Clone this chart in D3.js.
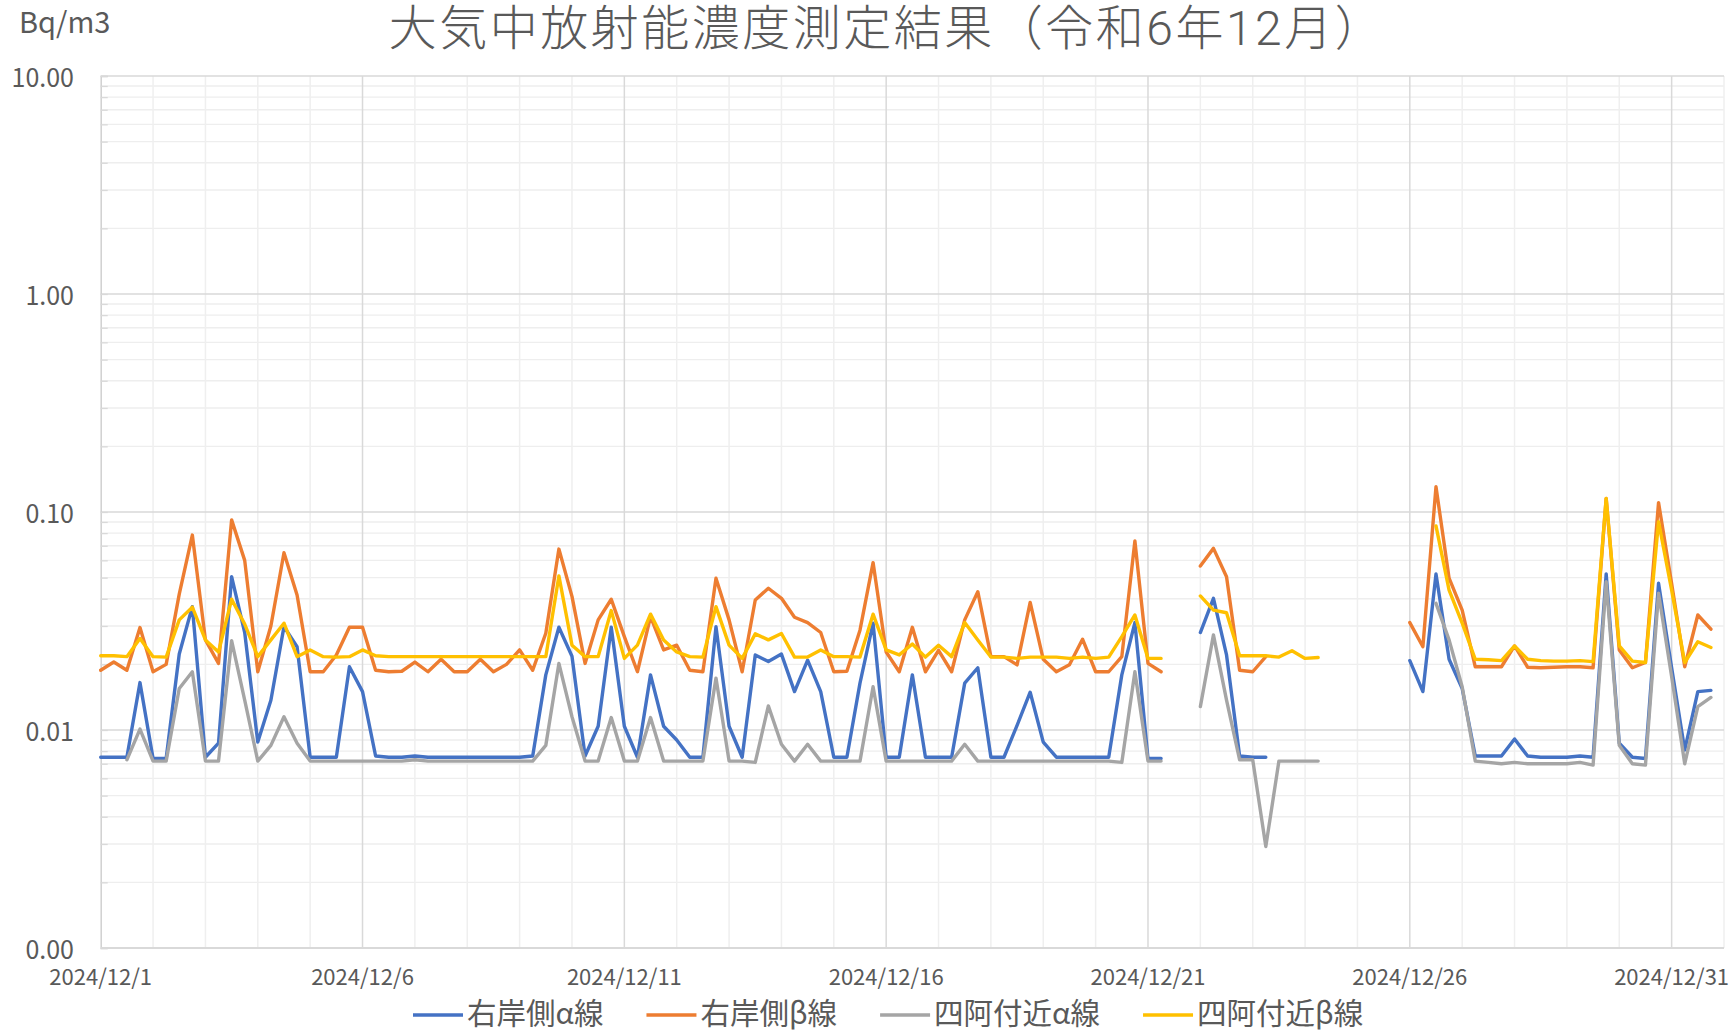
<!DOCTYPE html>
<html lang='ja'>

<head>
    <meta charset='UTF-8'/>
    <title>大気中放射能濃度測定結果（令和6年12月）</title>
    <script src="https://cdn.jsdelivr.net/npm/d3@7"></script>
    <style>
        html,
        body {
            margin: 0;
            background: white;
        }

        #container {
            position: relative;
            width: 1736px;
            height: 1033px;
            overflow: hidden;
        }

        text {
            font-family: "Noto Sans CJK JP", "Noto Sans", sans-serif;
            fill: #595959;
        }

        .chart-title {
            position: absolute;
            left: 387px;
            top: 5px;
            width: 1000px;
            text-align: center;
            font-family: Roboto, "Noto Sans CJK JP", sans-serif;
            font-size: 48px;
            font-weight: 300;
            line-height: 48px;
            letter-spacing: 2.5px;
            color: #595959;
            white-space: nowrap;
        }
    </style>
</head>

<body>
<div id="container"></div>

<script>
    // measurement every 6 hours from 2024/12/1 00:00, null = no data
    const startDate = new Date(2024, 11, 1)
    const stepHours = 6

    const rightBankAlpha = [
        0.0075, 0.0075, 0.0075, 0.0165, 0.0074, 0.0074, 0.0223, 0.0368, 0.0075, 0.0087,
        0.0505, 0.028, 0.0088, 0.0137, 0.0298, 0.0241, 0.0075, 0.0075, 0.0075, 0.0195,
        0.015, 0.0076, 0.0075, 0.0075, 0.0076, 0.0075, 0.0075, 0.0075, 0.0075, 0.0075,
        0.0075, 0.0075, 0.0075, 0.0076, 0.0179, 0.0296, 0.0218, 0.0076, 0.0104, 0.0296,
        0.0104, 0.0075, 0.0179, 0.0104, 0.009, 0.0075, 0.0075, 0.0298, 0.0104, 0.0075,
        0.0221, 0.0206, 0.0223, 0.015, 0.0209, 0.015, 0.0075, 0.0075, 0.0164, 0.0309,
        0.0075, 0.0075, 0.0179, 0.0075, 0.0075, 0.0075, 0.0164, 0.0193, 0.0075, 0.0075,
        0.0105, 0.0149, 0.0088, 0.0075, 0.0075, 0.0075, 0.0075, 0.0075, 0.0179, 0.0311,
        0.0074, 0.0074, null, null, 0.028, 0.0402, 0.0221, 0.0076, 0.0075, 0.0075,
        null, null, null, null, null, null, null, null, null, null,
        0.0208, 0.015, 0.052, 0.0211, 0.0155, 0.0076, 0.0076, 0.0076, 0.0091, 0.0076,
        0.0075, 0.0075, 0.0075, 0.0076, 0.0075, 0.052, 0.0087, 0.0075, 0.0074, 0.0471,
        0.0193, 0.0081, 0.015, 0.0152
    ]

    const rightBankBeta = [
        0.0188, 0.0205, 0.0188, 0.0295, 0.0185, 0.02, 0.042, 0.0784, 0.0259, 0.0202,
        0.092, 0.06, 0.0185, 0.03, 0.065, 0.0416, 0.0185, 0.0185, 0.0221, 0.0296,
        0.0296, 0.0188, 0.0185, 0.0186, 0.0205, 0.0185, 0.0211, 0.0185, 0.0185, 0.0211,
        0.0185, 0.02, 0.0233, 0.0188, 0.0278, 0.0676, 0.041, 0.0202, 0.032, 0.0398,
        0.0268, 0.0185, 0.0331, 0.0233, 0.0245, 0.0188, 0.0185, 0.0497, 0.032, 0.0185,
        0.0395, 0.0447, 0.0402, 0.0329, 0.0311, 0.028, 0.0185, 0.0186, 0.0287, 0.0586,
        0.0228, 0.0185, 0.0296, 0.0185, 0.0232, 0.0185, 0.032, 0.0431, 0.0217, 0.0217,
        0.0199, 0.0385, 0.0211, 0.0185, 0.0199, 0.0261, 0.0185, 0.0185, 0.0217, 0.0736,
        0.0202, 0.0185, null, null, 0.0565, 0.0681, 0.0505, 0.0188, 0.0185, 0.0217,
        null, null, null, null, null, null, null, null, null, null,
        0.0311, 0.0241, 0.1306, 0.0497, 0.0355, 0.0195, 0.0195, 0.0195, 0.0243, 0.0194,
        0.0193, 0.0194, 0.0195, 0.0195, 0.0193, 0.1155, 0.0233, 0.0193, 0.0204, 0.1104,
        0.047, 0.0195, 0.0337, 0.029
    ]

    const azumayaAlpha = [
        null, null, 0.0073, 0.0101, 0.0072, 0.0072, 0.0155, 0.0185, 0.0072, 0.0072,
        0.0257, 0.0137, 0.0072, 0.0085, 0.0115, 0.0087, 0.0072, 0.0072, 0.0072, 0.0072,
        0.0072, 0.0072, 0.0072, 0.0072, 0.0073, 0.0072, 0.0072, 0.0072, 0.0072, 0.0072,
        0.0072, 0.0072, 0.0072, 0.0072, 0.0085, 0.0202, 0.0115, 0.0072, 0.0072, 0.0114,
        0.0072, 0.0072, 0.0114, 0.0072, 0.0072, 0.0072, 0.0072, 0.0173, 0.0072, 0.0072,
        0.0071, 0.0129, 0.0086, 0.0072, 0.0086, 0.0072, 0.0072, 0.0072, 0.0072, 0.0158,
        0.0072, 0.0072, 0.0072, 0.0072, 0.0072, 0.0072, 0.0086, 0.0072, 0.0072, 0.0072,
        0.0072, 0.0072, 0.0072, 0.0072, 0.0072, 0.0072, 0.0072, 0.0072, 0.0071, 0.0185,
        0.0072, 0.0072, null, null, 0.0128, 0.0273, 0.0137, 0.0073, 0.0073, 0.00292,
        0.0072, 0.0072, 0.0072, 0.0072, null, null, null, null, null, null,
        null, null, 0.0381, 0.0259, 0.0158, 0.0072, 0.0071, 0.007, 0.0071, 0.007,
        0.007, 0.007, 0.007, 0.0071, 0.0069, 0.0479, 0.0085, 0.007, 0.0069, 0.0424,
        0.0176, 0.007, 0.0128, 0.0141
    ]

    const azumayaBeta = [
        0.0219, 0.0219, 0.0217, 0.0263, 0.0217, 0.0216, 0.032, 0.0366, 0.0259, 0.0228,
        0.0398, 0.0306, 0.0217, 0.0259, 0.0309, 0.0217, 0.0233, 0.0217, 0.0216, 0.0217,
        0.0233, 0.0219, 0.0217, 0.0217, 0.0217, 0.0217, 0.0217, 0.0217, 0.0217, 0.0217,
        0.0217, 0.0217, 0.0217, 0.0217, 0.0217, 0.0509, 0.0245, 0.0217, 0.0217, 0.0353,
        0.0213, 0.0245, 0.034, 0.0259, 0.0228, 0.0217, 0.0216, 0.0368, 0.0245, 0.0213,
        0.0276, 0.0259, 0.0277, 0.0216, 0.0216, 0.0233, 0.0217, 0.0217, 0.0216, 0.034,
        0.0233, 0.0221, 0.0248, 0.0216, 0.0245, 0.0217, 0.0311, 0.0259, 0.0216, 0.0216,
        0.0213, 0.0216, 0.0216, 0.0216, 0.0213, 0.0216, 0.0213, 0.0216, 0.0268, 0.0337,
        0.0213, 0.0213, null, null, 0.0412, 0.0355, 0.0345, 0.0219, 0.0219, 0.0219,
        0.0216, 0.0231, 0.0213, 0.0215, null, null, null, null, null, null,
        null, null, 0.0863, 0.0438, 0.0309, 0.0211, 0.021, 0.0208, 0.0243, 0.0211,
        0.0208, 0.0207, 0.0207, 0.0208, 0.0206, 0.1155, 0.0243, 0.0207, 0.0204, 0.0903,
        0.0438, 0.0204, 0.0254, 0.0239
    ]

    const seriesNames = ['右岸側α線', '右岸側β線', '四阿付近α線', '四阿付近β線']
    const seriesColors = ['#4472C4', '#ED7D31', '#A5A5A5', '#FFC000']
    const seriesValues = [rightBankAlpha, rightBankBeta, azumayaAlpha, azumayaBeta]

    const yTickValues = [0.001, 0.01, 0.1, 1, 10]
    const xLabelDays = [1, 6, 11, 16, 21, 26, 31]

    const title = '大気中放射能濃度測定結果（令和6年12月）'
    const unitLabel = 'Bq/m3'

    const width = 1736
    const height = 1033
    const plot = {left: 100.7, right: 1724, top: 76, bottom: 948}

    const container = d3.select('#container')

    const svg = container
        .append('svg')
        .attr('width', width)
        .attr('height', height)
        .style('display', 'block')

    svg.append('rect')
        .attr('width', width)
        .attr('height', height)
        .attr('fill', 'white')

    const x = d3.scaleTime()
        .domain([startDate, new Date(2025, 0, 1)])
        .range([plot.left, plot.right])

    const y = d3.scaleLog()
        .domain([0.001, 10])
        .range([plot.bottom, plot.top])

    const timeOf = i => d3.timeHour.offset(startDate, i * stepHours)

    // grid
    const grid = svg.append('g')

    const minorY = []
    yTickValues.slice(0, -1).forEach(decade => {
        for (let k = 2; k <= 9; k++) minorY.push(decade * k)
    })

    grid.selectAll('.minor-y')
        .data(minorY)
        .join('line')
        .attr('x1', plot.left)
        .attr('x2', plot.right)
        .attr('y1', d => y(d))
        .attr('y2', d => y(d))
        .attr('stroke', '#eeeeee')
        .attr('stroke-width', 1.3)

    const days = d3.timeDay.range(d3.timeDay.offset(startDate, 1), new Date(2025, 0, 2))
    const majorDays = xLabelDays.map(d => new Date(2024, 11, d))

    grid.selectAll('.minor-x')
        .data(days.filter(d => !xLabelDays.includes(d.getDate()) || d.getMonth() !== 11))
        .join('line')
        .attr('x1', d => x(d))
        .attr('x2', d => x(d))
        .attr('y1', plot.top)
        .attr('y2', plot.bottom)
        .attr('stroke', '#efefef')
        .attr('stroke-width', 1.5)

    grid.selectAll('.major-x')
        .data(majorDays.slice(1))
        .join('line')
        .attr('x1', d => x(d))
        .attr('x2', d => x(d))
        .attr('y1', plot.top)
        .attr('y2', plot.bottom)
        .attr('stroke', '#d9d9d9')
        .attr('stroke-width', 1.5)

    grid.selectAll('.major-y')
        .data(yTickValues.slice(1))
        .join('line')
        .attr('x1', plot.left)
        .attr('x2', plot.right)
        .attr('y1', d => y(d))
        .attr('y2', d => y(d))
        .attr('stroke', '#d9d9d9')
        .attr('stroke-width', 1.5)

    // axes
    const yAxis = svg.append('g')
        .attr('transform', `translate(${plot.left},0)`)
        .call(d3.axisRight(y).tickValues(minorY.concat(yTickValues)).tickSize(7).tickFormat(''))
    yAxis.select('.domain').attr('stroke', '#d0d0d0').attr('stroke-width', 1.5)
    yAxis.selectAll('.tick line').attr('stroke', '#d9d9d9').attr('stroke-width', 1.3)

    svg.append('line')
        .attr('x1', plot.left)
        .attr('x2', plot.right)
        .attr('y1', plot.bottom)
        .attr('y2', plot.bottom)
        .attr('stroke', '#d9d9d9')
        .attr('stroke-width', 2)

    svg.append('g')
        .selectAll('text')
        .data(yTickValues)
        .join('text')
        .attr('x', 74)
        .attr('y', d => y(d))
        .attr('text-anchor', 'end')
        .attr('dominant-baseline', 'central')
        .attr('font-size', '25px')
        .text(d3.format('.2f'))

    const dateFormat = d3.timeFormat('%Y/%m/%-d')
    svg.append('g')
        .selectAll('text')
        .data(majorDays)
        .join('text')
        .attr('x', d => x(d))
        .attr('y', 985)
        .attr('text-anchor', 'middle')
        .attr('font-size', '22px')
        .text(dateFormat)

    // series
    const line = d3.line()
        .defined(d => d.value != null)
        .x(d => x(d.time))
        .y(d => y(d.value))

    seriesValues.forEach((values, s) => {
        svg.append('path')
            .datum(values.map((value, i) => ({time: timeOf(i), value: value})))
            .attr('d', line)
            .attr('fill', 'none')
            .attr('stroke', seriesColors[s])
            .attr('stroke-width', 3.4)
            .attr('stroke-linejoin', 'round')
            .attr('stroke-linecap', 'round')
    })

    // title and unit
    container.append('div')
        .attr('class', 'chart-title')
        .text(title)

    svg.append('text')
        .attr('x', 19)
        .attr('y', 33)
        .attr('font-size', '29px')
        .text(unitLabel)

    // legend
    const legend = svg.append('g')
    let legendX = 413
    seriesNames.forEach((name, s) => {
        legend.append('line')
            .attr('x1', legendX)
            .attr('x2', legendX + 50)
            .attr('y1', 1015)
            .attr('y2', 1015)
            .attr('stroke', seriesColors[s])
            .attr('stroke-width', 3.4)
        const label = legend.append('text')
            .attr('x', legendX + 54)
            .attr('y', 1023.5)
            .attr('font-size', '29.5px')
            .text(name)
        legendX += 54 + label.node().getComputedTextLength() + 43
    })
</script>
</body>

</html>
